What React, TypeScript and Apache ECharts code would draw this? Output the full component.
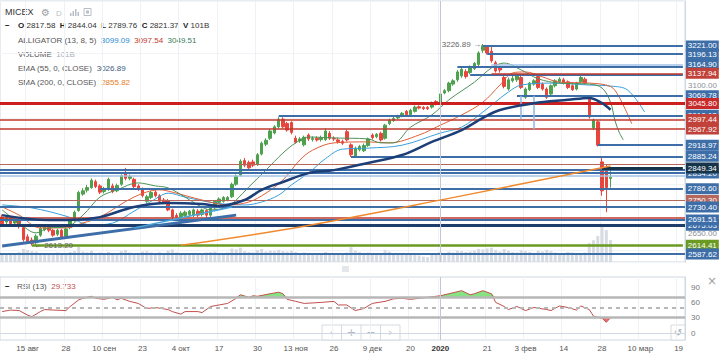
import React, { useEffect, useRef } from "react";
import * as echarts from "echarts";

const tickIndex = [6, 15, 24, 33, 42, 51, 60, 69, 78, 87, 96, 103, 114, 123, 132, 141, 150, 159];
const tickLabels = ["15 авг", "28", "10 сен", "23", "4 окт", "17", "30", "13 ноя", "26", "9 дек", "20", "2020", "21", "3 фев", "14", "28", "10 мар", "19"];
const slotCount = 161;

const opens = [2700,2685,2698,2682,2690,2668,2640,2630,2622,2645,
2662,2672,2660,2648,2660,2642,2668,2690,2720,2770,
2782,2790,2808,2795,2778,2785,2795,2780,2800,2832,
2818,2815,2795,2785,2748,2760,2776,2765,2752,2750,
2722,2705,2700,2705,2708,2705,2718,2708,2720,2706,
2728,2745,2748,2752,2762,2800,2828,2872,2866,2868,
2860,2892,2922,2940,2956,2975,2998,2985,2988,2940,
2932,2920,2950,2936,2940,2936,2936,2955,2940,2935,
2930,2960,2920,2885,2905,2902,2918,2950,2945,2955,
2940,2985,2994,3002,3008,3022,3012,3022,3036,3034,
3034,3035,3052,3050,3078,3085,3105,3118,3130,3143,
3140,3152,3165,3208,3220,3205,3170,3155,3125,3090,
3115,3118,3125,3065,3088,3105,3128,3105,3090,3075,
3100,3112,3118,3112,3100,3090,3112,3120,3065,2972,
2990,2868,2840,2817.58];
const closes = [2680,2700,2680,2693,2672,2632,2625,2620,2642,2665,
2672,2660,2645,2660,2640,2664,2688,2715,2775,2780,
2790,2812,2793,2776,2785,2815,2778,2796,2826,2818,
2824,2793,2785,2766,2762,2775,2765,2748,2745,2722,
2700,2700,2712,2715,2718,2722,2706,2722,2706,2728,
2748,2755,2760,2760,2800,2825,2870,2858,2850,2858,
2890,2925,2934,2962,2975,2998,2975,2965,2958,2928,
2938,2943,2938,2940,2935,2942,2962,2940,2938,2930,
2925,2935,2890,2910,2915,2918,2938,2942,2952,2935,
2980,2995,3000,3008,3016,3012,3025,3035,3032,3030,
3030,3048,3045,3075,3085,3108,3115,3142,3150,3128,
3155,3168,3200,3222,3200,3176,3145,3148,3098,3118,
3122,3130,3095,3090,3108,3115,3095,3090,3065,3100,
3115,3120,3108,3095,3088,3108,3125,3108,3005,2995,
2919,2780,2790,2821.37];
const lows = [2672,2678,2672,2676,2665,2625,2618,2613.2,2615,2640,
2657,2654,2640,2642,2635,2638,2663,2686,2716,2765,
2775,2786,2788,2770,2772,2780,2773,2776,2795,2812,
2812,2788,2780,2760,2742,2755,2760,2743,2740,2718,
2694,2693,2695,2700,2703,2700,2700,2702,2700,2700,
2724,2740,2744,2748,2758,2795,2824,2852,2845,2852,
2856,2888,2916,2935,2952,2970,2970,2960,2952,2924,
2926,2915,2932,2930,2930,2930,2932,2935,2932,2924,
2920,2930,2883,2880,2900,2898,2914,2936,2940,2930,
2936,2980,2990,2998,3004,3008,3008,3018,3028,3026,
3026,3030,3040,3046,3074,3080,3100,3112,3124,3122,
3135,3148,3160,3200,3195,3170,3140,3140,3092,3085,
3110,3112,3090,3060,3084,3100,3090,3085,3060,3070,
3095,3108,3104,3090,3084,3086,3108,3104,3000,2965,
2915,2765,2715,2789.76];
const highs = [2708,2706,2703,2700,2695,2672,2648,2638,2648,2670,
2678,2676,2664,2665,2664,2668,2692,2720,2780,2788,
2798,2818,2814,2800,2792,2820,2802,2802,2830,2850,
2830,2820,2800,2790,2768,2780,2782,2770,2758,2755,
2726,2712,2718,2720,2722,2726,2724,2726,2724,2732,
2752,2760,2764,2764,2805,2830,2876,2880,2872,2875,
2895,2930,2940,2968,2980,3005,3004,2990,2992,2948,
2944,2948,2955,2946,2946,2948,2970,2962,2946,2942,
2936,2966,2925,2915,2920,2924,2942,2955,2956,2960,
2984,3000,3006,3012,3020,3026,3030,3040,3040,3038,
3038,3052,3056,3080,3090,3112,3120,3148,3156,3150,
3162,3172,3205,3226.89,3224,3220,3176,3160,3130,3125,
3130,3136,3130,3095,3112,3120,3135,3110,3095,3104,
3120,3126,3124,3116,3104,3112,3132,3126,3068,3000,
2995,2880,2860,2844.04];
const volumes = [40,35,42,38,45,60,55,50,48,42,
38,40,36,44,40,38,46,50,70,48,
45,52,40,44,38,46,42,40,50,55,
44,40,42,48,50,44,40,45,38,52,
58,44,40,38,36,42,40,38,44,46,
48,42,40,44,62,58,66,50,46,44,
55,60,48,52,50,56,50,48,52,46,
40,44,42,38,36,40,46,42,38,40,
36,44,68,52,46,42,44,40,38,42,
55,48,40,38,42,36,40,42,30,25,
22,35,38,45,40,48,44,52,50,46,
48,52,60,58,62,66,55,48,60,52,
46,44,54,50,46,42,52,48,56,50,
44,40,42,46,44,42,40,44,87,100,
120,175,147,101];

const jawPts = [[0,2737],[7,2728],[15,2703],[21,2676],[26,2682],[31,2718],[36,2755],[39,2773],[43,2761],[50,2743],[57,2737],[61,2746],[65,2767],[68,2798],[72,2834],[76,2878],[80,2907],[86,2910],[94,2919],[103,2956],[108,2974],[113,3020],[119,3081],[122,3102],[129,3108],[138,3102],[143,3099.09],[147,3087],[151,3020]];
const teethPts = [[0,2731],[4,2706],[9,2667],[15,2667],[19,2682],[23,2700],[31,2761],[37,2783],[40,2776],[47,2752],[53,2737],[58,2746],[62,2773],[66,2813],[70,2874],[73,2904],[78,2926],[86,2929],[91,2926],[98,2950],[103,2980],[108,3011],[113,3050],[117,3102],[120,3139],[123,3142],[127,3127],[131,3111],[138,3108],[143,3097.54],[145,3066],[148,2984]];
const lipsPts = [[0,2722],[4,2682],[8,2652],[11,2667],[15,2670],[19,2706],[23,2761],[27,2783],[32,2804],[36,2795],[39,2789],[43,2761],[46,2737],[49,2722],[53,2731],[55,2752],[58,2792],[62,2843],[66,2895],[69,2926],[72,2944],[78,2941],[86,2938],[89,2926],[92,2926],[96,2974],[101,3011],[105,3057],[111,3111],[115,3154],[118,3169],[122,3148],[126,3121],[131,3108],[138,3105],[141,3093],[143,3049.51],[144,2996],[145,2959],[146,2935]];
const emaPts = [[0,2706],[11,2691],[16,2691],[23,2700],[31,2731],[39,2743],[47,2740],[51,2734],[57,2752],[61,2783],[66,2807],[72,2834],[78,2843],[86,2865],[94,2889],[101,2929],[108,2965],[113,3002],[117,3026],[125,3047],[133,3057],[138,3063],[141,3047],[143,3026.89]];
const smaPts = [[42,2614],[70,2670],[105,2757],[143,2855.82]];
const rsiPts = [[0,42],[2,45],[4,44],[6,35],[7,32],[9,42],[10,46],[12,45],[15,44],[16,52],[18,65],[19,68],[21,72],[22,68],[24,66],[26,70],[27,65],[28,68],[30,62],[32,58],[34,48],[36,50],[39,46],[40,42],[42,37],[43,42],[46,42],[47,40],[49,52],[51,55],[53,58],[55,68],[56,75],[58,70],[59,73],[60,72],[63,77],[65,80],[66,77],[67,66],[69,62],[71,58],[75,60],[78,62],[79,55],[81,55],[83,44],[85,48],[87,58],[90,62],[92,67],[94,68],[96,66],[98,68],[100,70],[103,73],[105,77],[108,83],[110,75],[111,77],[113,83],[115,77],[116,60],[118,52],[119,46],[121,52],[123,44],[125,50],[128,46],[129,44],[131,53],[133,50],[135,45],[136,53],[138,46],[139,33],[141,29],[142,21],[143,29.733]];

const levelPrices = [3157.2, 3133.0, 3069.78, 3010.12, 2859.5, 2843.1, 2834.2, 2826.4, 2750.3, 2697.0, 2675.03, 3221.00, 3196.13, 3164.90, 3137.94, 3045.80, 2997.44, 2967.92, 2918.97, 2885.24, 2849.34, 2786.60, 2730.40, 2691.51, 2614.41, 2587.62];
const levelStarts = [107, 110, 121, 65, -1, -1, -1, -1, -1, -1, -1, 113, 114, 115, 115, -1, -1, -1, 140, 82, 141, 23, -1, -1, 7, -1];
const levelKinds = ["blue","blue","blue","blue","brown","blue","blue","light","brown","red","navy","blue","blue","light","red","bigred","red","red","blue","blue","dark","blue","blue","blue","green","blue"];
const levelLabelOn = [false,false,true,true,false,false,true,false,true,false,true,true,true,true,true,true,true,true,true,true,true,true,true,true,true,true];

const trendFrom = [[0, 2612], [31, 2667]];
const trendTo = [[55, 2706], [54, 2731]];
const forkFrom = [[122, 3069.78], [125, 3069.78]];
const forkTo = [[122, 2998], [125, 2967]];

const fam = "'Liberation Sans', Arial, sans-serif";

const kindStyle: Record<string, { line: string; width: number; bg: string }> = {
  blue: { line: "#3d6ea8", width: 2, bg: "#3d6ea8" },
  light: { line: "#a3c3e8", width: 1.5, bg: "#3d6ea8" },
  brown: { line: "#b5675c", width: 1, bg: "#b5675c" },
  red: { line: "#c0392b", width: 1.5, bg: "#c0423a" },
  bigred: { line: "#cc1f1f", width: 3, bg: "#c82a2a" },
  navy: { line: "#1f3d6b", width: 3, bg: "#3d6ea8" },
  dark: { line: "#17354a", width: 3, bg: "#17354a" },
  green: { line: "#6a9a22", width: 2.5, bg: "#6a9a22" },
};

function buildOption() {
  const cats = Array.from({ length: slotCount }, (_, i) => String(i));
  const isTick = (i: number) => tickIndex.indexOf(i) >= 0;
  const candle = opens.map((o, i) => [o, closes[i], lows[i], highs[i]]);

  const levelData: any[] = levelPrices.map((p, k) => {
    const st = kindStyle[levelKinds[k]];
    const lineStyle = { color: st.line, width: st.width, type: "solid" };
    const full = levelStarts[k] < 0;
    const label = levelLabelOn[k]
      ? {
          show: true, position: "end", distance: full ? 1 : 3,
          formatter: p.toFixed(2), color: "#fff", backgroundColor: st.bg,
          fontSize: 8, lineHeight: 9, padding: [1, 2, 1, 2], fontFamily: fam,
        }
      : { show: false };
    if (full) return { yAxis: p, lineStyle, label };
    return [{ coord: [levelStarts[k], p], lineStyle, label }, { coord: [slotCount - 1, p] }];
  });
  const trendStyles = [
    { color: "#3d6ea8", width: 3 },
    { color: "#49a6dc", width: 1.5 },
  ];
  trendFrom.forEach((f, k) => {
    levelData.push([{ coord: f, lineStyle: { ...trendStyles[k], type: "solid" }, label: { show: false } }, { coord: trendTo[k] }]);
  });
  forkFrom.forEach((f, k) => {
    levelData.push([{ coord: f, lineStyle: { color: "#8fb6e0", width: 1.5, type: "solid" }, label: { show: false } }, { coord: forkTo[k] }]);
  });
  levelData.push({ xAxis: 103, lineStyle: { color: "#c4c8ce", width: 1, type: "solid" }, label: { show: false } });

  const greenFill = rsiPts.map(([i, v]) => [i, Math.max(v, 70)]);
  const redFill = rsiPts.map(([i, v]) => [i, Math.min(v, 30)]);

  const lineSeries = (name: string, data: number[][], color: string, width: number, z = 4) => ({
    name, type: "line", xAxisIndex: 0, yAxisIndex: 0, data, smooth: 0.35, symbol: "none",
    lineStyle: { color, width }, z, silent: true,
  });

  const txt = (x: number, y: number, text: string, rich: any, extra: any = {}) => ({
    type: "text", x, y, silent: true,
    style: { text, rich, fontFamily: fam, fontSize: 8, fill: "#444", verticalAlign: "middle", textVerticalAlign: "middle", ...extra },
  });

  const richMain = {
    b: { fontWeight: "bold", fontSize: 8, fontFamily: fam, fill: "#222", color: "#222" },
    n: { fontSize: 8, fontFamily: fam, fill: "#333", color: "#333" },
    g: { fontSize: 8, fontFamily: fam, fill: "#555", color: "#555" },
    c1: { fontSize: 8, fontFamily: fam, fill: "#2a8ad0", color: "#2a8ad0" },
    c2: { fontSize: 8, fontFamily: fam, fill: "#c0392b", color: "#c0392b" },
    c3: { fontSize: 8, fontFamily: fam, fill: "#3a7d55", color: "#3a7d55" },
    v: { fontSize: 8, fontFamily: fam, fill: "#a4aeb9", color: "#a4aeb9" },
    e: { fontSize: 8, fontFamily: fam, fill: "#3c5a85", color: "#3c5a85" },
    s: { fontSize: 8, fontFamily: fam, fill: "#e67e22", color: "#e67e22" },
    r: { fontSize: 8, fontFamily: fam, fill: "#c0504d", color: "#c0504d" },
  };

  const nav = ["‹", "+", "−", "›"];
  const navElems: any[] = [
    { type: "rect", shape: { x: 322, y: 325, width: 78, height: 15 }, style: { fill: "rgba(255,255,255,0.9)", stroke: "#d5dae0", lineWidth: 1 }, silent: true },
  ];
  nav.forEach((t, k) => {
    if (k > 0) navElems.push({ type: "line", shape: { x1: 322 + k * 19.5, y1: 325, x2: 322 + k * 19.5, y2: 340 }, style: { stroke: "#d5dae0", lineWidth: 1 }, silent: true });
    navElems.push({ type: "text", x: 322 + k * 19.5 + 9.75, y: 332.5, silent: true, style: { text: t, fontSize: 11, fill: "#b3b9c0", align: "center", verticalAlign: "middle", textAlign: "center", textVerticalAlign: "middle", fontFamily: "DejaVu Sans" } });
  });

  return {
    animation: false,
    backgroundColor: "#ffffff",
    textStyle: { fontFamily: fam },
    grid: [
      { left: 0, right: 35, top: 1, height: 261, show: true, borderColor: "#cfd8e3", borderWidth: 1, backgroundColor: "transparent" },
      { left: 0, right: 35, top: 277, height: 63, show: true, borderColor: "#cfd8e3", borderWidth: 1, backgroundColor: "transparent" },
    ],
    xAxis: [
      {
        type: "category", gridIndex: 0, data: cats, boundaryGap: true,
        axisLabel: { show: false }, axisTick: { show: false }, axisLine: { show: false },
        splitLine: { show: true, interval: (i: number) => isTick(i), lineStyle: { color: "#eef1f5", width: 1 } },
      },
      {
        type: "category", gridIndex: 1, data: cats, boundaryGap: true,
        axisTick: { show: false }, axisLine: { show: true, lineStyle: { color: "#cfd8e3" } },
        splitLine: { show: true, interval: (i: number) => isTick(i), lineStyle: { color: "#eef1f5", width: 1 } },
        axisLabel: {
          interval: (i: number) => isTick(i), margin: 4, fontSize: 8, color: "#555", fontFamily: fam,
          formatter: (_v: string, i: number) => {
            const k = tickIndex.indexOf(i);
            if (k < 0) return "";
            return tickLabels[k] === "2020" ? "{y|2020}" : tickLabels[k];
          },
          rich: { y: { fontWeight: "bold", color: "#333", fontSize: 8, fontFamily: fam } },
        },
      },
    ],
    yAxis: [
      {
        type: "value", gridIndex: 0, position: "right", min: 2563.3, max: 3358, scale: true,
        axisLine: { show: true, lineStyle: { color: "#cfd8e3" } }, axisTick: { show: false },
        splitLine: { show: true, lineStyle: { color: "#f2f4f7" } },
        axisLabel: { customValues: [2650, 3100], formatter: (v: number) => v.toFixed(2), fontSize: 8, color: "#8a9097", margin: 3, fontFamily: fam },
      },
      { type: "value", gridIndex: 0, min: 0, max: 1200, show: false, splitLine: { show: false } },
      {
        type: "value", gridIndex: 1, position: "right", min: -13.7, max: 109.8,
        axisLine: { show: true, lineStyle: { color: "#cfd8e3" } }, axisTick: { show: false },
        splitLine: { show: false },
        axisLabel: { customValues: [0, 30, 60, 90], fontSize: 8, color: "#777", margin: 6, fontFamily: fam },
      },
    ],
    series: [
      {
        name: "Volume", type: "bar", xAxisIndex: 0, yAxisIndex: 1, data: volumes, barWidth: 3,
        itemStyle: { color: "#d7dce3" }, z: 1, silent: true,
      },
      {
        name: "MICEX", type: "candlestick", xAxisIndex: 0, yAxisIndex: 0, data: candle,
        barWidth: 3, barMaxWidth: 3, clip: false, z: 3, silent: true,
        itemStyle: { color: "#4ea24e", color0: "#e8453c", borderColor: "#4ea24e", borderColor0: "#e8453c", borderWidth: 1 },
        markLine: {
          silent: true, symbol: ["none", "none"], animation: false, precision: 2,
          label: { show: false }, emphasis: { disabled: true },
          data: levelData,
        },
        markPoint: {
          silent: true, symbol: "circle", symbolSize: 0, animation: false,
          label: { show: true, fontSize: 8, color: "#666", fontFamily: fam, distance: 2 },
          data: [
            { coord: [113, 3226.89], label: { position: "left", formatter: "3226.89 →" } },
            { coord: [7, 2613.2], label: { position: "right", formatter: "← 2613.20" } },
          ],
        },
      },
      lineSeries("Jaw", jawPts, "#3aa0dc", 1),
      lineSeries("Teeth", teethPts, "#e0603a", 1),
      lineSeries("Lips", lipsPts, "#4f9158", 1),
      lineSeries("EMA", emaPts, "#1c3f77", 2.5, 5),
      lineSeries("SMA", smaPts, "#f08a2c", 1.5, 5),
      {
        name: "RSIup", type: "line", xAxisIndex: 1, yAxisIndex: 2, data: greenFill, symbol: "none",
        lineStyle: { width: 0, opacity: 0 }, areaStyle: { origin: 70, color: "#86e283", opacity: 1 }, z: 2, silent: true,
      },
      {
        name: "RSIdn", type: "line", xAxisIndex: 1, yAxisIndex: 2, data: redFill, symbol: "none",
        lineStyle: { width: 0, opacity: 0 }, areaStyle: { origin: 30, color: "#f06b6b", opacity: 1 }, z: 2, silent: true,
      },
      {
        name: "RSI", type: "line", xAxisIndex: 1, yAxisIndex: 2, data: rsiPts, symbol: "none",
        lineStyle: { color: "#c0504d", width: 1 }, z: 4, silent: true,
        markLine: {
          silent: true, symbol: ["none", "none"], animation: false, label: { show: false }, emphasis: { disabled: true },
          data: [
            { yAxis: 70, lineStyle: { color: "#b7b7b7", width: 2.5, type: "solid" } },
            { yAxis: 30, lineStyle: { color: "#b7b7b7", width: 2.5, type: "solid" } },
            { yAxis: 50, lineStyle: { color: "#b7b7b7", width: 2, type: [4, 4] } },
            { xAxis: 103, lineStyle: { color: "#c4c8ce", width: 1, type: "solid" } },
          ],
        },
      },
    ],
    graphic: [
      txt(5, 12, "MICEX", {}, { fontSize: 9, fill: "#333" }),
      txt(41, 12, "⚙", {}, { fontSize: 10, fill: "#9aa0a6", fontFamily: "DejaVu Sans" }),
      txt(56, 13, "D", {}, { fontSize: 8, fill: "#b8bec5" }),
      { type: "rect", shape: { x: 70, y: 13, width: 1.5, height: 3 }, style: { fill: "#b8bec5" }, silent: true },
      { type: "rect", shape: { x: 72.5, y: 11, width: 1.5, height: 5 }, style: { fill: "#b8bec5" }, silent: true },
      { type: "rect", shape: { x: 75, y: 9, width: 1.5, height: 7 }, style: { fill: "#b8bec5" }, silent: true },
      { type: "rect", shape: { x: 77.5, y: 12, width: 1.5, height: 4 }, style: { fill: "#b8bec5" }, silent: true },
      { type: "rect", shape: { x: 84, y: 8.5, width: 7, height: 7 }, style: { fill: "none", stroke: "#b8bec5", lineWidth: 1 }, silent: true },
      { type: "rect", shape: { x: 86, y: 10.5, width: 3, height: 3 }, style: { fill: "#b8bec5" }, silent: true },
      txt(5, 25, "{b|−}", richMain),
      txt(18, 25, "{b|O} {n|2817.58}  {b|H} {n|2844.04}  {b|L} {n|2789.76}  {b|C} {n|2821.37}  {b|V} {n|101B}", richMain),
      txt(18, 40, "{g|ALLIGATOR (13, 8, 5)}  {c1|3099.09}  {c2|3097.54}  {c3|3049.51}", richMain),
      txt(18, 54, "{g|VOLUME}  {v|101B}", richMain),
      txt(18, 68, "{g|EMA (55, 0, CLOSE)}  {e|3026.89}", richMain),
      txt(18, 82, "{g|SMA (200, 0, CLOSE)}  {s|2855.82}", richMain),
      txt(5, 286, "{b|−}", richMain),
      txt(17, 286, "{g|RSI (13)}  {r|29.733}", richMain),
      { type: "rect", shape: { x: 342, y: 266, width: 7, height: 6 }, style: { fill: "#e4e8ed" }, silent: true },
      ...navElems,
      { type: "rect", shape: { x: 671, y: 325, width: 14, height: 15 }, style: { fill: "#fff", stroke: "#d5dae0", lineWidth: 1 }, silent: true },
      txt(678, 332.5, "↺", {}, { fontSize: 10, fill: "#a7adb4", align: "center", textAlign: "center", fontFamily: "DejaVu Sans" }),
      txt(712, 281, "×", {}, { fontSize: 12, fill: "#9a9fa5", align: "center", textAlign: "center", fontFamily: "DejaVu Sans" }),
    ],
  };
}

export default function App() {
  const ref = useRef<HTMLDivElement>(null);
  useEffect(() => {
    if (!ref.current) return;
    const chart = echarts.init(ref.current, null, { renderer: "svg" });
    chart.setOption(buildOption() as any);
    return () => chart.dispose();
  }, []);
  return (
    <div
      ref={ref}
      style={{ position: "fixed", left: 0, top: 0, width: 720, height: 356, background: "#fff" }}
    />
  );
}
